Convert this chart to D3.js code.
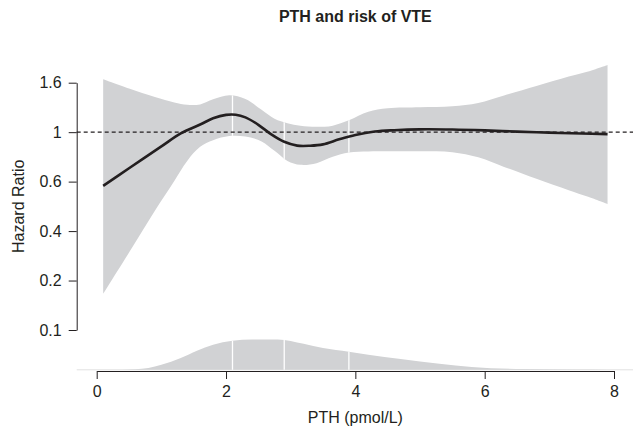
<!DOCTYPE html>
<html>
<head>
<meta charset="utf-8">
<script src="https://cdn.jsdelivr.net/npm/d3@7"></script>
<style>
body { margin: 0; background: #fff; }
</style>
</head>
<body>
<div class="chart"></div>
<script>
// spline estimate of the hazard ratio
var curvePth = [0.1, 0.5, 1.0, 1.3, 1.6, 1.8, 2.0, 2.15, 2.3, 2.5, 2.7, 2.9, 3.1, 3.3, 3.5, 3.75, 4.0, 4.3, 4.6, 5.0, 5.5, 6.0, 6.5, 7.0, 7.5, 7.9];
var curveHR = [0.581, 0.694, 0.866, 0.988, 1.080, 1.150, 1.191, 1.193, 1.161, 1.077, 0.978, 0.907, 0.873, 0.872, 0.884, 0.930, 0.972, 1.006, 1.020, 1.029, 1.027, 1.018, 1.005, 0.995, 0.986, 0.980];

// 95% confidence band
var bandPth = [0.1, 0.5, 0.9, 1.2, 1.4, 1.6, 1.8, 2.05, 2.3, 2.55, 2.75, 2.95, 3.15, 3.4, 3.65, 3.9, 4.2, 4.5, 5.0, 5.5, 5.9, 6.3, 6.8, 7.3, 7.6, 7.9];
var bandUpper = [1.708, 1.556, 1.428, 1.351, 1.318, 1.324, 1.393, 1.453, 1.400, 1.253, 1.144, 1.093, 1.066, 1.055, 1.068, 1.127, 1.228, 1.272, 1.285, 1.298, 1.344, 1.450, 1.596, 1.757, 1.848, 1.974];
var bandLower = [0.195, 0.296, 0.452, 0.611, 0.748, 0.862, 0.921, 0.961, 0.956, 0.911, 0.828, 0.748, 0.719, 0.731, 0.779, 0.814, 0.822, 0.824, 0.824, 0.816, 0.775, 0.704, 0.624, 0.556, 0.520, 0.483];

// PTH distribution
var densPth = [0.1, 0.4, 0.6, 0.8, 1.0, 1.3, 1.55, 1.8, 2.1, 2.4, 2.8, 3.2, 3.5, 3.9, 4.2, 4.7, 5.3, 5.8, 6.6, 7.4, 7.9];
var densVal = [0, 0.001, 0.005, 0.018, 0.050, 0.117, 0.190, 0.250, 0.290, 0.303, 0.303, 0.260, 0.217, 0.180, 0.150, 0.107, 0.060, 0.027, 0.007, 0.003, 0.001];

var knots = [2.1, 2.9, 3.9];

var xTicks = [0, 2, 4, 6, 8];
var yTickLog = [-2, -1.5, -1, -0.5, 0, 0.5];
var yTickLabels = ["0.1", "0.2", "0.4", "0.6", "1", "1.6"];

var width = 633, height = 429;
var ink = "#231f20", grey = "#d1d2d4";
var font = "'Liberation Sans', Arial, Helvetica, sans-serif";

var x = d3.scaleLinear().domain([0, 8]).range([96.7, 614]);
var y = d3.scaleLinear().domain([-2, 0.5]).range([330, 82.7]);   // log hazard ratio
var yd = d3.scaleLinear().domain([0, 0.31]).range([369.8, 338.8]);
var axisX = 76.7, axisY = 371;

var svg = d3.select(".chart").append("svg")
    .attr("width", width)
    .attr("height", height)
    .style("font-family", font);

var band = bandPth.map(function(p, i){ return {p: p, lo: bandLower[i], hi: bandUpper[i]}; });
var line = curvePth.map(function(p, i){ return {p: p, hr: curveHR[i]}; });
var dens = densPth.map(function(p, i){ return {p: p, v: densVal[i]}; });

var smooth = d3.curveCatmullRom.alpha(0.5);

var bandArea = d3.area()
    .x(function(d){ return x(d.p); })
    .y0(function(d){ return y(Math.log(d.lo)); })
    .y1(function(d){ return y(Math.log(d.hi)); })
    .curve(smooth);

var densArea = d3.area()
    .x(function(d){ return x(d.p); })
    .y0(yd(0))
    .y1(function(d){ return yd(d.v); })
    .curve(d3.curveMonotoneX);

var defs = svg.append("defs");
defs.append("clipPath").attr("id", "clipBand")
    .append("path").attr("d", bandArea(band));
defs.append("clipPath").attr("id", "clipDens")
    .append("path").attr("d", densArea(dens));

svg.append("path")
    .attr("d", bandArea(band))
    .attr("fill", grey);

svg.append("g").attr("clip-path", "url(#clipBand)")
    .selectAll("line").data(knots).enter().append("line")
    .attr("x1", function(d){ return x(d); })
    .attr("x2", function(d){ return x(d); })
    .attr("y1", 0).attr("y2", 340)
    .attr("stroke", "#fff").attr("stroke-width", 1.3);

// faint baseline of the distribution
svg.append("line")
    .attr("x1", axisX).attr("x2", width)
    .attr("y1", yd(0)).attr("y2", yd(0))
    .attr("stroke", "#e2e2e2").attr("stroke-width", 1);

svg.append("path")
    .attr("d", densArea(dens))
    .attr("fill", grey);

svg.append("g").attr("clip-path", "url(#clipDens)")
    .selectAll("line").data(knots).enter().append("line")
    .attr("x1", function(d){ return x(d); })
    .attr("x2", function(d){ return x(d); })
    .attr("y1", 330).attr("y2", 372)
    .attr("stroke", "#fff").attr("stroke-width", 1.3);

// reference line HR = 1
svg.append("line")
    .attr("x1", axisX).attr("x2", width)
    .attr("y1", y(0)).attr("y2", y(0))
    .attr("stroke", ink).attr("stroke-width", 1.1)
    .attr("stroke-dasharray", "4,3");

svg.append("path")
    .datum(line)
    .attr("d", d3.line()
        .x(function(d){ return x(d.p); })
        .y(function(d){ return y(Math.log(d.hr)); })
        .curve(smooth))
    .attr("fill", "none")
    .attr("stroke", ink)
    .attr("stroke-width", 2.6);

// axes
var gx = svg.append("g")
    .attr("transform", "translate(0," + axisY + ")")
    .call(d3.axisBottom(x).tickValues(xTicks).tickSize(8).tickSizeOuter(0).tickPadding(7));

var gy = svg.append("g")
    .attr("transform", "translate(" + axisX + ",0)")
    .call(d3.axisLeft(y).tickValues(yTickLog).tickSize(8).tickSizeOuter(0).tickPadding(7)
        .tickFormat(function(d, i){ return yTickLabels[i]; }));

[gx, gy].forEach(function(g){
    g.attr("font-family", font).attr("font-size", 16);
    g.selectAll("line, path").attr("stroke", ink);
    g.selectAll("text").attr("fill", ink);
});

svg.append("text")
    .attr("x", (x(0) + x(8)) / 2)
    .attr("y", 22)
    .attr("text-anchor", "middle")
    .attr("font-size", 16)
    .attr("font-weight", "bold")
    .attr("fill", ink)
    .text("PTH and risk of VTE");

svg.append("text")
    .attr("x", (x(0) + x(8)) / 2)
    .attr("y", 422.5)
    .attr("text-anchor", "middle")
    .attr("font-size", 16)
    .attr("fill", ink)
    .text("PTH (pmol/L)");

svg.append("text")
    .attr("transform", "translate(24," + ((y(-2) + y(0.5)) / 2) + ") rotate(-90)")
    .attr("text-anchor", "middle")
    .attr("font-size", 16)
    .attr("fill", ink)
    .text("Hazard Ratio");
</script>
</body>
</html>
